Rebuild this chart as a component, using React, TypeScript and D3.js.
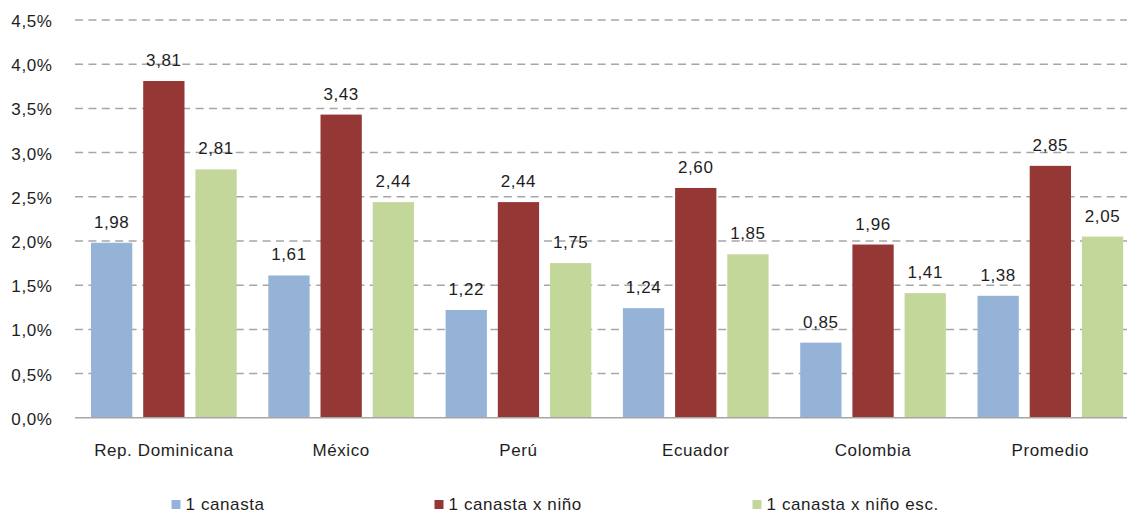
import React from "react";
import * as d3 from "d3";

const categories = ["Rep. Dominicana", "México", "Perú", "Ecuador", "Colombia", "Promedio"];
const seriesNames = ["1 canasta", "1 canasta x niño", "1 canasta x niño esc."];
const canasta = [1.98, 1.61, 1.22, 1.24, 0.85, 1.38];
const canastaNino = [3.81, 3.43, 2.44, 2.6, 1.96, 2.85];
const canastaNinoEsc = [2.81, 2.44, 1.75, 1.85, 1.41, 2.05];
const yTicks = [0, 0.5, 1, 1.5, 2, 2.5, 3, 3.5, 4, 4.5];
const colors = ["#95b3d7", "#953735", "#c4d79b"];

const W = 1127;
const H = 514;
const textColor = "#1e1e1e";
const font = "'Liberation Sans', Arial, sans-serif";

export default function App() {
  const seriesValues = [canasta, canastaNino, canastaNinoEsc];
  const y = d3.scaleLinear().domain([0, 4.5]).range([417.8, 20]);
  const x0 = d3.scaleBand<string>().domain(categories).range([75.2, 1139]).padding(0);
  const x1 = d3
    .scaleBand<string>()
    .domain(seriesNames)
    .range([0, x0.bandwidth()])
    .paddingInner(0.209)
    .paddingOuter(0.303);
  const fmt = (v: number) => v.toFixed(2).replace(".", ",");
  const tickFmt = (v: number) => v.toFixed(1).replace(".", ",") + "%";
  const legendX = [171.5, 434.5, 752.5];

  return (
    <svg
      width={W}
      height={H}
      style={{ position: "absolute", left: 0, top: 0, background: "#fff" }}
      fontFamily={font}
    >
      {yTicks.map((t) =>
        t === 0 ? null : (
          <line
            key={"g" + t}
            x1={75}
            x2={W}
            y1={y(t)}
            y2={y(t)}
            stroke="#a6a6a6"
            strokeWidth={1.5}
            strokeDasharray="8 5.4"
          />
        )
      )}
      {yTicks.map((t) => (
        <text
          key={"t" + t}
          x={52.5}
          y={y(t) + 7}
          textAnchor="end"
          fontSize={17}
          letterSpacing={0.6}
          fill={textColor}
        >
          {tickFmt(t)}
        </text>
      ))}
      {categories.map((c, i) => (
        <g key={c} transform={`translate(${x0(c)},0)`}>
          {seriesNames.map((s, j) => {
            const v = seriesValues[j][i];
            const bx = x1(s)!;
            return (
              <g key={s}>
                <rect
                  x={bx}
                  y={y(v)}
                  width={x1.bandwidth()}
                  height={y(0) - y(v)}
                  fill={colors[j]}
                />
                <text
                  x={bx + x1.bandwidth() / 2}
                  y={y(v) - 15}
                  textAnchor="middle"
                  fontSize={17}
                  letterSpacing={0.6}
                  fill={textColor}
                >
                  {fmt(v)}
                </text>
              </g>
            );
          })}
          <text
            x={x0.bandwidth() / 2}
            y={456}
            textAnchor="middle"
            fontSize={17}
            letterSpacing={0.6}
            fill={textColor}
          >
            {c}
          </text>
        </g>
      ))}
      <line x1={75} x2={W} y1={y(0)} y2={y(0)} stroke="#a6a6a6" strokeWidth={1.5} />
      {seriesNames.map((s, j) => (
        <g key={"l" + s}>
          <rect x={legendX[j]} y={500} width={9} height={9} fill={colors[j]} />
          <text x={legendX[j] + 14} y={510} fontSize={17} letterSpacing={0.6} fill={textColor}>
            {s}
          </text>
        </g>
      ))}
    </svg>
  );
}
